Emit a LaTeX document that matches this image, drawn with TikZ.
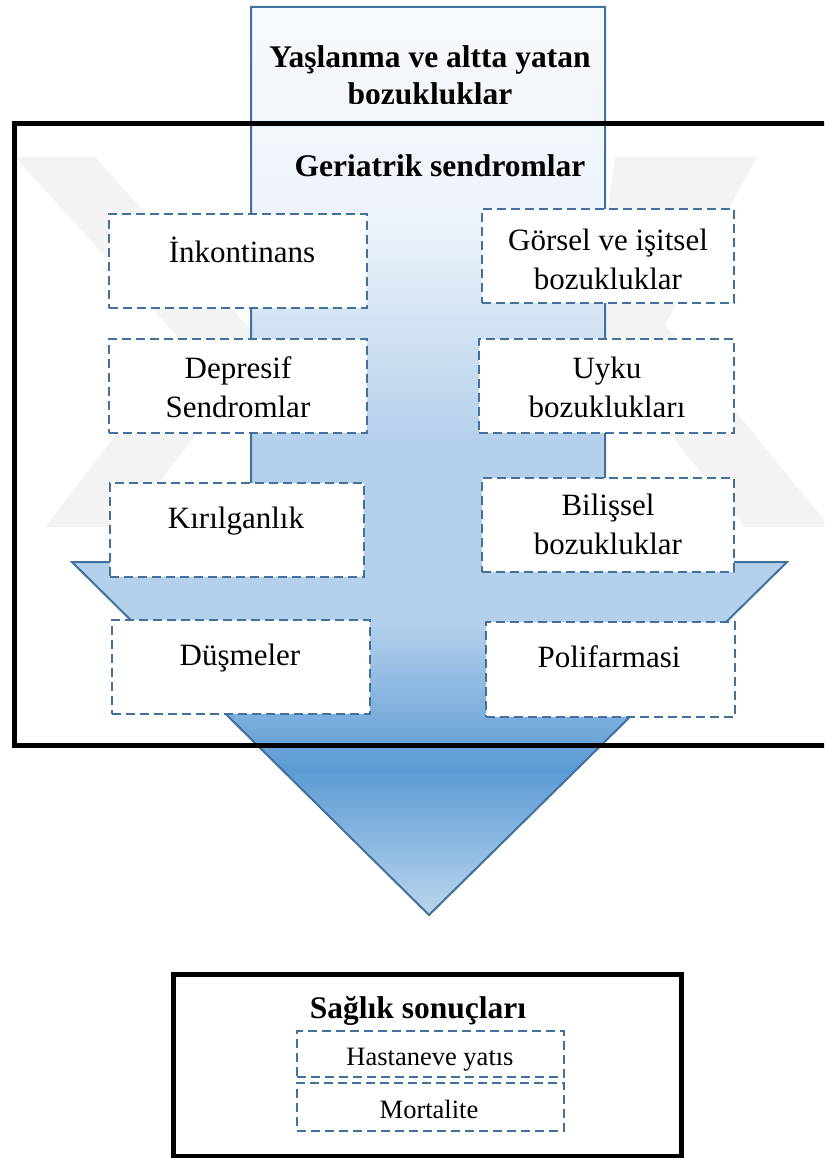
\documentclass[tikz,border=0pt]{standalone}
\usepackage{fontspec}
\setmainfont{Liberation Serif}
\definecolor{aline}{RGB}{65,113,156}
\definecolor{gA}{RGB}{247,250,253}
\definecolor{gB}{RGB}{237,243,250}
\definecolor{gC}{RGB}{181,208,235}
\definecolor{gD}{RGB}{91,155,213}
\definecolor{gE}{RGB}{190,215,238}
\definecolor{wmark}{RGB}{243,243,243}
\begin{document}
\begin{tikzpicture}[x=1pt,y=-1pt,
  dbox/.style={draw=aline, fill=white, line width=2.6pt, dash pattern=on 9pt off 5pt, inner sep=0pt},
  frame/.style={draw=black, line width=5pt, inner sep=0pt},
  btext/.style={font=\fontsize{31}{39}\selectfont, inner sep=0pt, align=center},
  stext/.style={font=\fontsize{26.5}{32}\selectfont, inner sep=0pt},
  ttext/.style={font=\bfseries\fontsize{31.5}{37}\selectfont, inner sep=0pt, align=center}]
\clip (0,0) rectangle (824,1158);
\fill[white] (0,0) rectangle (824,1158);
% faint watermark
\fill[wmark] (15,157) -- (95,157) -- (265,345) -- (125,527) -- (45,527) -- (185,345) -- cycle;
\fill[wmark] (615,157) -- (757,157) -- (665,325) -- (830,527) -- (745,527) -- (590,335) -- cycle;
% big arrow
\begin{scope}
\clip (251,7) -- (605,7) -- (605,562) -- (787,562) -- (429,915) -- (72,562) -- (251,562) -- cycle;
\shade[top color=gA,bottom color=gB] (60,5) rectangle (800,221);
\shade[top color=gB,bottom color=gC] (60,220) rectangle (800,441);
\fill[gC] (60,440) rectangle (800,621);
\shade[top color=gC,bottom color=gD] (60,620) rectangle (800,771);
\shade[top color=gD,bottom color=gE] (60,770) rectangle (800,918);
\end{scope}
\draw[aline, line width=2pt, line join=miter] (251,7) -- (605,7) -- (605,562) -- (787,562) -- (429,915) -- (72,562) -- (251,562) -- cycle;
% title in the arrow shaft
\begin{scope}
\clip (251,7) rectangle (605,103.5);
\node[ttext, anchor=north] (aging) at (430,41) {\strut Yaşlanma ve altta yatan\\\strut bozukluklar};
\end{scope}
% frames
\node[frame, minimum width=826pt, minimum height=621pt] (geriframe) at (427,434.5) {};
\node[frame, minimum width=508pt, minimum height=182pt] (outframe) at (427,1065) {};
\node[ttext, anchor=base] (geri) at (440,177) {Geriatrik sendromlar};
% syndrome boxes
\node[dbox, minimum width=258pt, minimum height=94pt] (ink) at (238,261) {};
\node[dbox, minimum width=258pt, minimum height=94pt] (dep) at (238,386) {};
\node[dbox, minimum width=254pt, minimum height=94pt] (kir) at (237,530) {};
\node[dbox, minimum width=258pt, minimum height=94pt] (dus) at (241,667) {};
\node[dbox, minimum width=252pt, minimum height=94pt] (gor) at (608,256) {};
\node[dbox, minimum width=255pt, minimum height=94pt] (uyk) at (606.5,386) {};
\node[dbox, minimum width=252pt, minimum height=94pt] (bil) at (608,525) {};
\node[dbox, minimum width=249pt, minimum height=95pt] (pol) at (610.5,669.5) {};
\node[btext, anchor=base] (inkT) at (242,262) {İnkontinans};
\node[btext, anchor=north] (depT) at (238,351.2) {\strut Depresif\\\strut Sendromlar};
\node[btext, anchor=base] (kirT) at (236,528) {Kırılganlık};
\node[btext, anchor=base] (dusT) at (240,665) {Düşmeler};
\node[btext, anchor=north] (gorT) at (608,223.2) {\strut Görsel ve işitsel\\\strut bozukluklar};
\node[btext, anchor=north] (uykT) at (607,351.2) {\strut Uyku\\\strut bozuklukları};
\node[btext, anchor=north] (bilT) at (608,487.7) {\strut Bilişsel\\\strut bozukluklar};
\node[btext, anchor=base] (polT) at (609,667) {Polifarmasi};
% outcomes
\node[ttext, anchor=base] (saglik) at (418,1018) {Sağlık sonuçları};
\node[dbox, minimum width=267pt, minimum height=46pt] (has) at (430.5,1054) {};
\node[dbox, minimum width=267pt, minimum height=48pt] (mor) at (430.5,1107) {};
\node[stext, anchor=base] (hasT) at (430,1065) {Hastaneve yatıs};
\node[stext, anchor=base] (morT) at (429,1118) {Mortalite};
\end{tikzpicture}
\end{document}
